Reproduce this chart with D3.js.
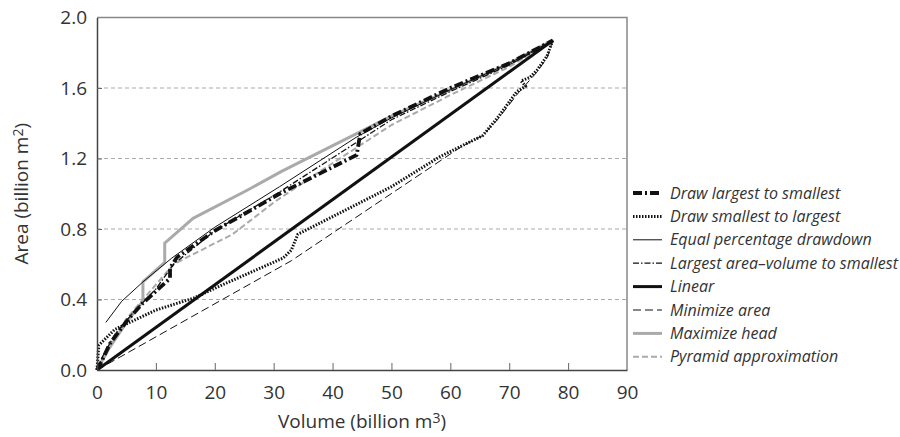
<!DOCTYPE html>
<html>
<head>
<meta charset="utf-8">
<script src="https://cdn.jsdelivr.net/npm/d3@7"></script>
<style>
  body { margin: 0; background: #fff; }
  text { font-family: "Open Sans", sans-serif; fill: #333; }
</style>
</head>
<body>
<div id="vis-holder"></div>
<script>
// Data (volume in billion m3, area in billion m2)
const drawLargest = [[0,0],[0.5,0.03],[2.2,0.15],[5.1,0.28],[7.8,0.38],[12.4,0.52],[12.4,0.58],[13.6,0.64],[20,0.79],[31,1.0],[44.1,1.22],[44.7,1.34],[50,1.44],[60,1.6],[65,1.67],[70,1.74],[77.4,1.87]];
const drawSmallest = [[0,0],[0.3,0.14],[3,0.23],[10,0.34],[16.6,0.41],[20.4,0.47],[31.6,0.635],[33,0.68],[34.1,0.77],[40,0.87],[50,1.04],[58.2,1.21],[65.5,1.33],[68,1.43],[71.3,1.58],[72.8,1.61],[72,1.64],[73.5,1.66],[74.7,1.7],[76.4,1.78],[77.4,1.87]];
const equalPct = [[1.5,0.27],[4.2,0.39],[7.8,0.5],[12.7,0.635],[20,0.81],[31,1.04],[44,1.32],[50,1.43],[60,1.59],[70,1.74],[77.4,1.87]];
const largestAV = [[0,0],[1,0.08],[3,0.2],[6,0.32],[10,0.46],[13,0.6],[20,0.79],[31,1.01],[44,1.29],[50,1.42],[60,1.58],[70,1.73],[77.4,1.87]];
const linear = [[0,0],[77.4,1.87]];
const minimizeArea = [[0,0],[33,0.62],[62,1.27],[65.5,1.33],[68,1.42],[71.5,1.57],[74.7,1.69],[76.4,1.77],[77.4,1.87]];
const maximizeHead = [[0,0],[2,0.12],[5,0.27],[7.8,0.39],[7.8,0.5],[11.5,0.61],[11.5,0.72],[16.3,0.86],[25.5,1.02],[31.5,1.13],[44,1.34],[50,1.44],[60,1.59],[70,1.74],[77.4,1.87]];
const pyramid = [[0,0],[2,0.13],[5,0.29],[7.8,0.4],[13,0.6],[23,0.77],[30,0.95],[38,1.13],[44,1.26],[50,1.39],[60,1.56],[70,1.72],[77.4,1.87]];

const xTicks = [0,10,20,30,40,50,60,70,80,90];
const yTicks = [0,0.4,0.8,1.2,1.6,2.0];

const seriesNames = ["Draw largest to smallest","Draw smallest to largest","Equal percentage drawdown","Largest area\u2013volume to smallest","Linear","Minimize area","Maximize head","Pyramid approximation"];
const seriesData = [drawLargest, drawSmallest, equalPct, largestAV, linear, minimizeArea, maximizeHead, pyramid];

// styles per series
const styles = [
  { color: "#111", w: 3.8, dash: "9,3,2,3" },
  { color: "#111", w: 3, dash: "1.5,1.5" },
  { color: "#111", w: 1, dash: null },
  { color: "#111", w: 1.3, dash: "6,2,1.5,2" },
  { color: "#111", w: 3, dash: null },
  { color: "#111", w: 1, dash: "8,4" },
  { color: "#aaa", w: 3, dash: null },
  { color: "#aaa", w: 2, dash: "6,3" }
];
const drawOrder = [6, 7, 5, 4, 1, 2, 3, 0];

const width = 900, height = 437;
const margin = { top: 17.5, right: 273, bottom: 67, left: 97 };

const svg = d3.select("#vis-holder")
  .append("svg")
  .attr("width", width)
  .attr("height", height);

const x = d3.scaleLinear().domain([0, 90]).range([margin.left, width - margin.right]);
const y = d3.scaleLinear().domain([0, 2]).range([height - margin.bottom, margin.top]);

// gridlines
svg.append("g")
  .selectAll("line")
  .data(yTicks.filter(d => d > 0 && d < 2))
  .enter().append("line")
  .attr("x1", x(0)).attr("x2", x(90))
  .attr("y1", d => y(d)).attr("y2", d => y(d))
  .attr("stroke", "#aaa")
  .attr("stroke-width", 1.2)
  .attr("stroke-dasharray", "4,3");

// top and right frame
svg.append("path")
  .attr("d", `M${x(0)},${y(2)}H${x(90)}V${y(0)}`)
  .attr("fill", "none")
  .attr("stroke", "#888")
  .attr("stroke-width", 1.5);

// lines
const line = d3.line().x(d => x(d[0])).y(d => y(d[1]));
drawOrder.forEach(i => {
  const s = styles[i];
  svg.append("path")
    .datum(seriesData[i])
    .attr("d", line)
    .attr("fill", "none")
    .attr("stroke", s.color)
    .attr("stroke-width", s.w)
    .attr("stroke-dasharray", s.dash)
    .attr("stroke-linejoin", "round");
});

// x axis
svg.append("g")
  .attr("transform", `translate(0,${y(0)})`)
  .call(d3.axisBottom(x).tickValues(xTicks).tickSizeInner(-7).tickSizeOuter(0).tickPadding(16))
  .call(g => g.select(".domain").attr("stroke", "#444").attr("stroke-width", 1.5))
  .call(g => g.selectAll(".tick line").attr("stroke", "#666").filter(d => d === 0 || d === 90).remove())
  .call(g => g.selectAll(".tick text").attr("font-size", 19).attr("fill", "#3a3a3a").attr("font-family", "Open Sans"));

// y axis
svg.append("g")
  .attr("transform", `translate(${x(0)},0)`)
  .call(d3.axisLeft(y).tickValues(yTicks).tickFormat(d3.format(".1f")).tickSizeInner(-5).tickSizeOuter(0).tickPadding(10))
  .call(g => g.select(".domain").attr("stroke", "#444").attr("stroke-width", 1.5))
  .call(g => g.selectAll(".tick line").attr("stroke", "#666").filter(d => d === 0 || d === 2).remove())
  .call(g => g.selectAll(".tick text").attr("font-size", 19).attr("fill", "#3a3a3a").attr("font-family", "Open Sans"));

// axis titles
const xt = svg.append("text")
  .attr("x", x(45)).attr("y", 428)
  .attr("text-anchor", "middle")
  .attr("font-size", 19);
xt.append("tspan").text("Volume (billion m");
xt.append("tspan").attr("font-size", 14).attr("dy", -5).text("3");
xt.append("tspan").attr("dy", 5).text(")");

const yt = svg.append("text")
  .attr("transform", `translate(28,${y(1.0)}) rotate(-90)`)
  .attr("text-anchor", "middle")
  .attr("font-size", 19);
yt.append("tspan").text("Area (billion m");
yt.append("tspan").attr("font-size", 14).attr("dy", -5).text("2");
yt.append("tspan").attr("dy", 5).text(")");

// legend
const legend = svg.append("g").attr("transform", "translate(633,193)");
seriesNames.forEach((name, i) => {
  const s = styles[i];
  const g = legend.append("g").attr("transform", `translate(0,${i * 23.4})`);
  g.append("line")
    .attr("x1", 0).attr("x2", 29)
    .attr("stroke", s.color)
    .attr("stroke-width", s.w)
    .attr("stroke-dasharray", s.dash);
  g.append("text")
    .attr("x", 37).attr("y", 5.5)
    .attr("font-size", 16)
    .attr("font-style", "italic")
    .text(name);
});
</script>
</body>
</html>
